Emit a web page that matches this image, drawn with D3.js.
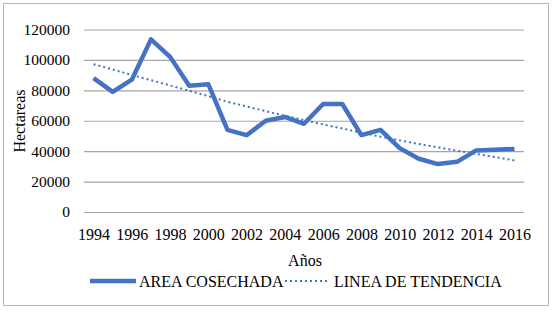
<!DOCTYPE html>
<html>
<head>
<meta charset="utf-8">
<script src="https://cdn.jsdelivr.net/npm/d3@7"></script>
<style>
  body { margin: 0; background: #fff; }
</style>
</head>
<body>
<div id="chart"></div>
<script>
// Data
const years = d3.range(1994, 2017)
const areaCosechada = [88000, 79000, 87000, 113500, 102000, 83000, 84000, 54000, 50500, 60000,
  62500, 58000, 71000, 71000, 50500, 54000, 42000, 35000, 31500, 33000, 40500, 41000, 41500]
const lineaTendencia = [97200, 93700, 90100, 86700, 83200, 79700, 76200, 72500, 69400, 66300,
  63300, 60400, 57600, 54900, 52200, 49500, 47100, 44700, 42500, 40300, 38200, 36100, 33900]
const yTicks = [0, 20000, 40000, 60000, 80000, 100000, 120000]
const xTickYears = years.filter(y => y % 2 === 0)

const width = 553
const height = 312
const margin = { top: 29.5, right: 29, left: 84 }
const innerWidth = width - margin.left - margin.right
const innerHeight = 212 - margin.top
const serif = 'Liberation Serif'

const svg = d3.select('#chart')
  .append('svg')
  .attr('width', width)
  .attr('height', height)
  .attr('font-family', serif)

// Outer frame
svg.append('rect')
  .attr('x', 3.5).attr('y', 3.5)
  .attr('width', 545).attr('height', 302)
  .attr('fill', 'none')
  .attr('stroke', '#b5b5b5')
  .attr('stroke-width', 1)

const g = svg.append('g')
  .attr('transform', `translate(${margin.left}, ${margin.top})`)

const x = d3.scalePoint()
  .domain(years)
  .range([0, innerWidth])
  .padding(0.5)

const y = d3.scaleLinear()
  .domain([0, 120000])
  .range([innerHeight, 0])

// Y gridlines
g.append('g')
  .attr('class', 'grid')
  .call(d3.axisLeft(y).tickValues(yTicks).tickSize(-innerWidth).tickFormat(''))
  .call(s => s.select('.domain').remove())
  .call(s => s.selectAll('line').attr('stroke', '#a6a6a6').attr('stroke-width', 1.2))

// Left axis labels
g.append('g')
  .call(d3.axisLeft(y).tickValues(yTicks).tickSize(0).tickPadding(14).tickFormat(d3.format('d')))
  .attr('font-family', null)
  .attr('font-size', null)
  .call(s => s.select('.domain').remove())
  .call(s => s.selectAll('text')
    .attr('fill', '#000')
    .attr('font-family', serif)
    .attr('font-size', 15.5))

// Bottom axis labels
g.append('g')
  .attr('transform', `translate(0, ${innerHeight})`)
  .call(d3.axisBottom(x).tickValues(xTickYears).tickSize(0).tickPadding(17))
  .attr('font-family', null)
  .attr('font-size', null)
  .call(s => s.select('.domain').remove())
  .call(s => s.selectAll('text')
    .attr('fill', '#000')
    .attr('font-family', serif)
    .attr('font-size', 16))

// Axis titles
svg.append('text')
  .attr('transform', 'translate(24.5, 121) rotate(-90)')
  .attr('text-anchor', 'middle')
  .attr('font-size', 16)
  .text('Hectareas')

svg.append('text')
  .attr('x', 305).attr('y', 266)
  .attr('text-anchor', 'middle')
  .attr('font-size', 16)
  .text('Años')

const line = d3.line()
  .x((d, i) => x(years[i]))
  .y(d => y(d))

// Trend line (dotted)
g.append('path')
  .datum(lineaTendencia)
  .attr('fill', 'none')
  .attr('stroke', '#4472c4')
  .attr('stroke-width', 2)
  .attr('stroke-dasharray', '2,3')
  .attr('d', line)

// Main series
g.append('path')
  .datum(areaCosechada)
  .attr('fill', 'none')
  .attr('stroke', '#4472c4')
  .attr('stroke-width', 4.5)
  .attr('stroke-linejoin', 'round')
  .attr('d', line)

// Legend
const legend = svg.append('g').attr('transform', 'translate(0, 281)')
legend.append('line')
  .attr('x1', 90).attr('x2', 136)
  .attr('stroke', '#4472c4').attr('stroke-width', 4.5)
legend.append('text')
  .attr('x', 139).attr('y', 5.5)
  .attr('font-size', 16)
  .text('AREA COSECHADA')
legend.append('line')
  .attr('x1', 285).attr('x2', 329)
  .attr('stroke', '#4472c4').attr('stroke-width', 2)
  .attr('stroke-dasharray', '2,3')
legend.append('text')
  .attr('x', 334).attr('y', 5.5)
  .attr('font-size', 16)
  .text('LINEA DE TENDENCIA')
</script>
</body>
</html>
